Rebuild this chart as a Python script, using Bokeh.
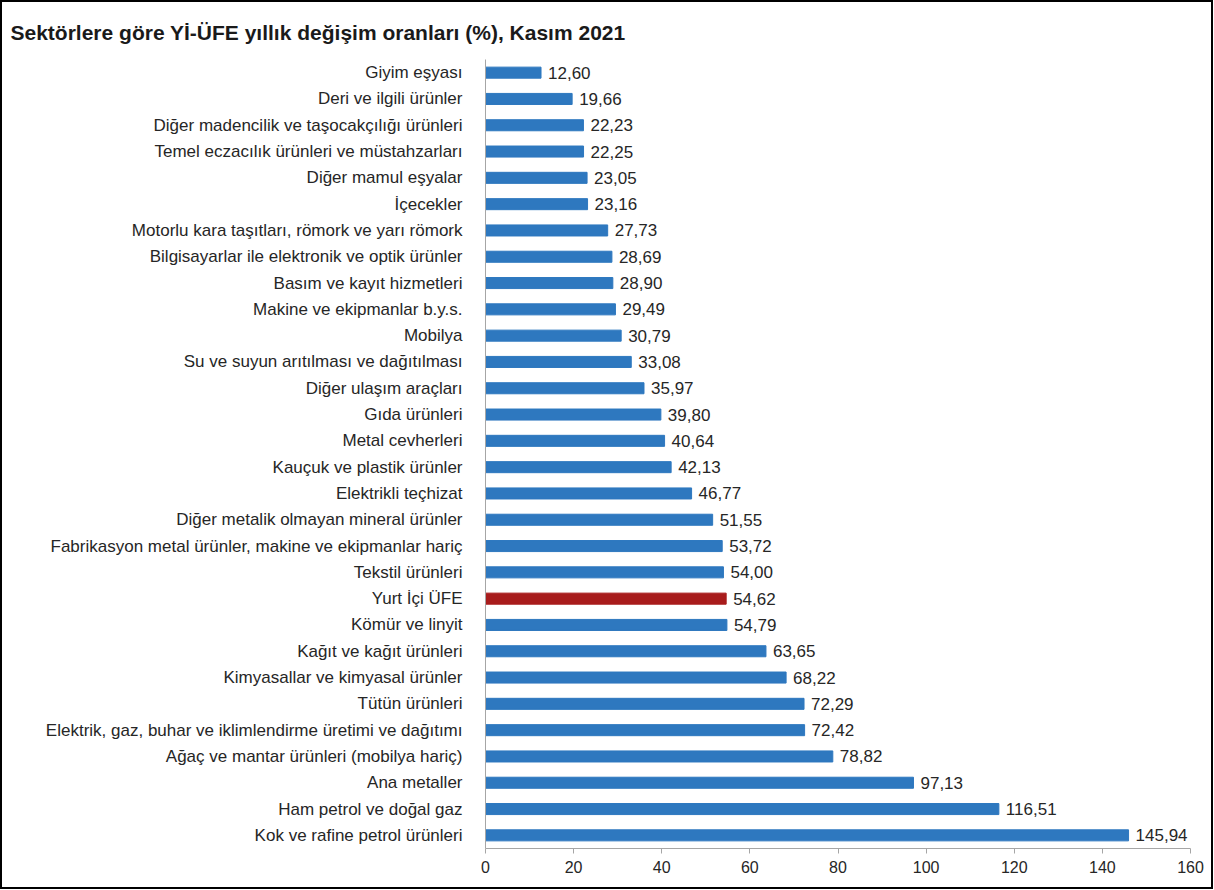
from bokeh.plotting import figure
from bokeh.models import ColumnDataSource, FactorRange, Range1d, FixedTicker
from bokeh.embed import file_html
from bokeh.resources import INLINE

categories = [
    "Giyim eşyası",
    "Deri ve ilgili ürünler",
    "Diğer madencilik ve taşocakçılığı ürünleri",
    "Temel eczacılık ürünleri ve müstahzarları",
    "Diğer mamul eşyalar",
    "İçecekler",
    "Motorlu kara taşıtları, römork ve yarı römork",
    "Bilgisayarlar ile elektronik ve optik ürünler",
    "Basım ve kayıt hizmetleri",
    "Makine ve ekipmanlar b.y.s.",
    "Mobilya",
    "Su ve suyun arıtılması ve dağıtılması",
    "Diğer ulaşım araçları",
    "Gıda ürünleri",
    "Metal cevherleri",
    "Kauçuk ve plastik ürünler",
    "Elektrikli teçhizat",
    "Diğer metalik olmayan mineral ürünler",
    "Fabrikasyon metal ürünler, makine ve ekipmanlar hariç",
    "Tekstil ürünleri",
    "Yurt İçi ÜFE",
    "Kömür ve linyit",
    "Kağıt ve kağıt ürünleri",
    "Kimyasallar ve kimyasal ürünler",
    "Tütün ürünleri",
    "Elektrik, gaz, buhar ve iklimlendirme üretimi ve dağıtımı",
    "Ağaç ve mantar ürünleri (mobilya hariç)",
    "Ana metaller",
    "Ham petrol ve doğal gaz",
    "Kok ve rafine petrol ürünleri",
]
values = [12.60, 19.66, 22.23, 22.25, 23.05, 23.16, 27.73, 28.69, 28.90, 29.49,
          30.79, 33.08, 35.97, 39.80, 40.64, 42.13, 46.77, 51.55, 53.72, 54.00,
          54.62, 54.79, 63.65, 68.22, 72.29, 72.42, 78.82, 97.13, 116.51, 145.94]
highlight = "Yurt İçi ÜFE"
x_ticks = [0, 20, 40, 60, 80, 100, 120, 140, 160]

BLUE = "#2e78bf"
RED = "#a81c1c"
TEXT = "#262626"
AXIS = "#a6a6a6"
FONT = "Liberation Sans"

labels = [f"{v:.2f}".replace(".", ",") for v in values]
colors = [RED if c == highlight else BLUE for c in categories]
src = ColumnDataSource(dict(cat=categories, val=values, lab=labels, col=colors))

p = figure(
    width=1213, height=889,
    y_range=FactorRange(*reversed(categories), range_padding=0),
    x_range=Range1d(0, 160),
    output_backend="svg", toolbar_location=None,
    min_border_left=483, min_border_right=25, min_border_top=56, min_border_bottom=43,
)
p.styles = {"border": "2px solid black", "box-sizing": "border-box"}

p.title.text = "Sektörlere göre Yİ-ÜFE yıllık değişim oranları (%), Kasım 2021"
p.title.text_font = FONT
p.title.text_font_size = "21px"
p.title.text_font_style = "bold"
p.title.text_color = "#1a1a1a"
p.title.align = "left"
p.title.offset = -475
p.title.standoff = 32

p.hbar(y="cat", right="val", left=0, height=0.42, color="col", source=src)
p.text(x="val", y="cat", text="lab", source=src, x_offset=7,
       text_baseline="middle", text_align="left", text_font_size="17px",
       text_color=TEXT, text_font={"value": FONT})

p.outline_line_color = None
p.xgrid.grid_line_color = None
p.ygrid.grid_line_color = None

p.xaxis.ticker = FixedTicker(ticks=x_ticks)
p.xaxis.axis_line_color = AXIS
p.xaxis.major_tick_line_color = AXIS
p.xaxis.major_tick_out = 5
p.xaxis.major_tick_in = 0
p.xaxis.minor_tick_line_color = None
p.xaxis.major_label_text_font = FONT
p.xaxis.major_label_text_font_size = "16px"
p.xaxis.major_label_text_color = TEXT
p.xaxis.major_label_standoff = 7

p.yaxis.axis_line_color = AXIS
p.yaxis.major_tick_line_color = None
p.yaxis.minor_tick_line_color = None
p.yaxis.major_label_text_font = FONT
p.yaxis.major_label_text_font_size = "17px"
p.yaxis.major_label_text_color = TEXT
p.yaxis.major_label_standoff = 17

open("out.html", "w").write(file_html(p, INLINE))
